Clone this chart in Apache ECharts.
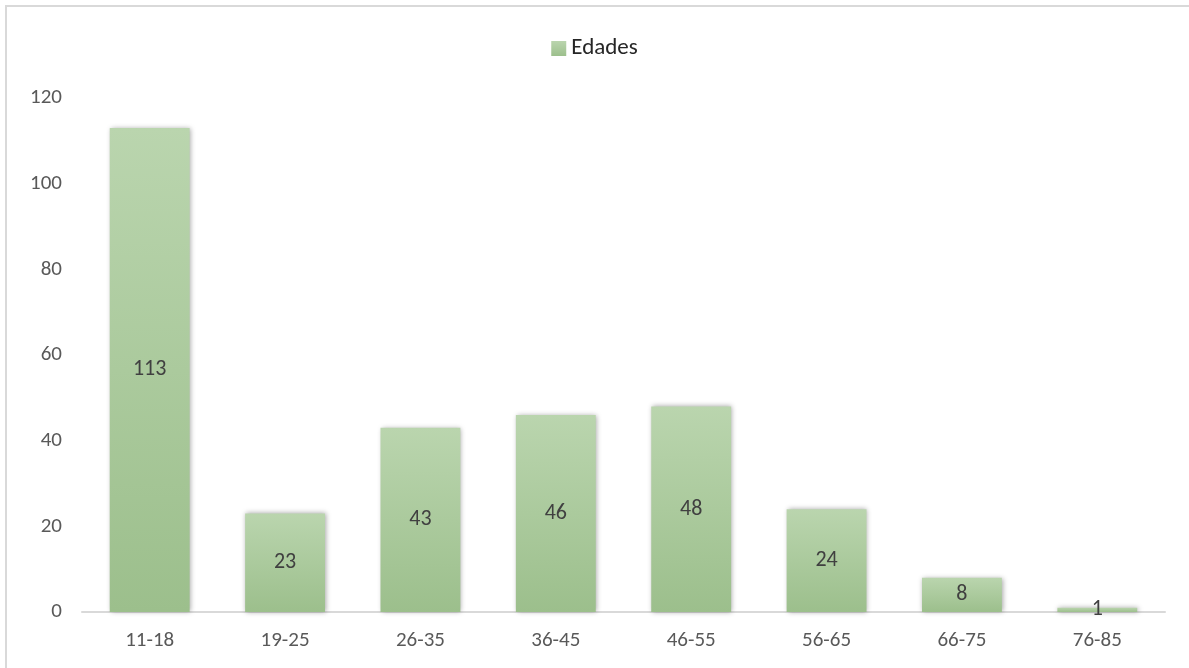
<!DOCTYPE html>
<html>
<head>
<meta charset="utf-8">
<script src="https://cdn.jsdelivr.net/npm/echarts@6/dist/echarts.min.js"></script>
<style>
  html, body { margin: 0; padding: 0; background: #fff; }
  #chart { width: 1189px; height: 668px; }
</style>
</head>
<body>
<div id="chart"></div>
<script>
const categories = ['11-18', '19-25', '26-35', '36-45', '46-55', '56-65', '66-75', '76-85']
const edades = [113, 23, 43, 46, 48, 24, 8, 1]
const seriesName = 'Edades'

const chart = echarts.init(document.getElementById('chart'))
const font = 'Calibri, Carlito, "Open Sans", sans-serif'

chart.setOption({
    animation: false,
    textStyle: { fontFamily: font },
    graphic: [
        { type: 'line', shape: { x1: 6, y1: 6, x2: 1189, y2: 6 }, style: { stroke: '#d9d9d9', lineWidth: 2 } },
        { type: 'line', shape: { x1: 6, y1: 5, x2: 6, y2: 668 }, style: { stroke: '#d9d9d9', lineWidth: 2 } },
    ],
    legend: {
        top: 32,
        left: 'center',
        itemWidth: 15,
        itemHeight: 15,
        itemGap: 7,
        textStyle: { fontSize: 23, color: '#262626', fontFamily: font },
        data: [{ name: seriesName, icon: 'rect' }],
    },
    grid: { left: 82, right: 24, top: 98, bottom: 56, containLabel: false },
    xAxis: {
        type: 'category',
        data: categories,
        axisLine: { lineStyle: { color: '#d9d9d9', width: 2 } },
        axisTick: { show: false },
        axisLabel: { fontSize: 21, color: '#595959', margin: 18 },
    },
    yAxis: {
        type: 'value',
        min: 0,
        max: 120,
        interval: 20,
        axisLine: { show: false },
        axisTick: { show: false },
        splitLine: { show: false },
        axisLabel: { fontSize: 21, color: '#595959', margin: 20 },
    },
    series: [{
        name: seriesName,
        type: 'bar',
        data: edades,
        barWidth: '59%',
        itemStyle: {
            color: new echarts.graphic.LinearGradient(0, 0, 0, 1, [
                { offset: 0, color: '#bad5ae' },
                { offset: 1, color: '#9cbf8c' },
            ]),
            shadowColor: 'rgba(0,0,0,0.35)',
            shadowBlur: 5,
            shadowOffsetX: 1,
            shadowOffsetY: 0,
        },
        label: {
            show: true,
            position: 'inside',
            fontSize: 22,
            color: '#404040',
            fontFamily: font,
        },
    }],
})
</script>
</body>
</html>
